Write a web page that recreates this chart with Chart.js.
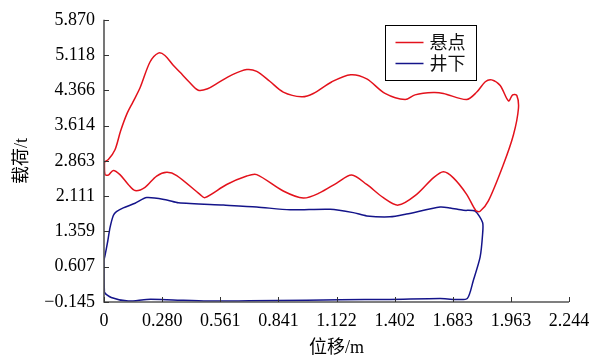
<!DOCTYPE html>
<html>
<head>
<meta charset="utf-8">
<script src="https://cdn.jsdelivr.net/npm/chart.js@4.4.0/dist/chart.umd.min.js"></script>
<style>
html,body{margin:0;padding:0;background:#ffffff;}
</style>
</head>
<body>
<canvas id="c" width="605" height="361"></canvas>
<script>
// ---- data ----
const seriesNames = ['悬点', '井下'];
const seriesColors = ['#e3121c', '#14148a'];

const xTickValues = [0, 0.2805, 0.561, 0.8415, 1.122, 1.4025, 1.683, 1.9635, 2.244];
const xTickLabels = ['0', '0.280', '0.561', '0.841', '1.122', '1.402', '1.683', '1.963', '2.244'];
const yTickValues = [-0.145, 0.607, 1.359, 2.111, 2.863, 3.614, 4.366, 5.118, 5.870];
const yTickLabels = ['\u22120.145', '0.607', '1.359', '2.111', '2.863', '3.614', '4.366', '5.118', '5.870'];

const xTitle = '位移/m';
const yTitle = '载荷/t';

// 悬点 (polished rod) loop
const rodX = [0.002, 0.021, 0.053, 0.080, 0.110, 0.140, 0.174, 0.222, 0.262, 0.294, 0.334, 0.367, 0.410, 0.455, 0.500, 0.544, 0.620, 0.689, 0.737, 0.800, 0.865, 0.954, 1.010, 1.100, 1.191, 1.268, 1.356, 1.453, 1.501, 1.589, 1.638, 1.750, 1.799, 1.840, 1.871, 1.912, 1.952, 1.972, 1.992, 2.000, 1.976, 1.927, 1.855, 1.815, 1.795, 1.750, 1.686, 1.638, 1.589, 1.509, 1.420, 1.348, 1.268, 1.195, 1.123, 1.040, 0.962, 0.865, 0.737, 0.689, 0.592, 0.487, 0.463, 0.351, 0.303, 0.254, 0.198, 0.150, 0.117, 0.077, 0.045, 0.021, 0.005, 0.002];
const rodY = [2.84, 2.89, 3.10, 3.50, 3.86, 4.12, 4.42, 4.97, 5.16, 5.11, 4.90, 4.75, 4.55, 4.37, 4.40, 4.51, 4.70, 4.81, 4.77, 4.56, 4.33, 4.23, 4.30, 4.55, 4.70, 4.61, 4.30, 4.17, 4.27, 4.32, 4.30, 4.17, 4.33, 4.55, 4.59, 4.47, 4.14, 4.27, 4.26, 3.98, 3.42, 2.78, 2.01, 1.79, 1.80, 2.15, 2.50, 2.63, 2.50, 2.15, 1.92, 2.08, 2.36, 2.56, 2.39, 2.18, 2.07, 2.22, 2.57, 2.54, 2.36, 2.08, 2.15, 2.55, 2.62, 2.54, 2.30, 2.23, 2.36, 2.57, 2.66, 2.56, 2.57, 2.84];

// 井下 (downhole) loop
const pumpX = [0.000, 0.005, 0.018, 0.029, 0.045, 0.060, 0.093, 0.150, 0.206, 0.303, 0.359, 0.576, 0.737, 0.898, 1.091, 1.203, 1.268, 1.380, 1.460, 1.622, 1.670, 1.734, 1.791, 1.827, 1.827, 1.815, 1.782, 1.753, 1.694, 1.622, 1.380, 1.139, 0.978, 0.700, 0.500, 0.303, 0.206, 0.117, 0.035, 0.002, 0.000];
const pumpY = [0.75, 0.85, 1.15, 1.44, 1.70, 1.78, 1.86, 1.96, 2.08, 2.03, 1.97, 1.92, 1.88, 1.82, 1.83, 1.76, 1.69, 1.67, 1.73, 1.88, 1.86, 1.81, 1.79, 1.55, 1.30, 0.81, 0.31, -0.07, -0.09, -0.07, -0.09, -0.095, -0.11, -0.12, -0.125, -0.095, -0.09, -0.125, -0.05, 0.07, 0.75];

const toPoints = (xs, ys) => xs.map((x, i) => ({x: x, y: ys[i]}));

const numFont = "'Liberation Serif', 'Times New Roman', serif";
const titleFont = "'Liberation Serif', 'Noto Sans CJK SC', serif";
const cjkFont = "'Noto Sans CJK SC', 'Liberation Serif', sans-serif";

const decoPlugin = {
  id: 'deco',
  afterDatasetsDraw(chart) {
    const {ctx, chartArea: a, scales} = chart;
    const xs = scales.x, ys = scales.y;
    ctx.save();
    // axis lines
    ctx.strokeStyle = '#555555';
    ctx.lineWidth = 1.6;
    ctx.beginPath();
    ctx.moveTo(a.left, a.top);
    ctx.lineTo(a.left, a.bottom);
    ctx.lineTo(a.right, a.bottom);
    ctx.stroke();
    // inward ticks
    ctx.strokeStyle = '#333333';
    ctx.lineWidth = 1;
    ctx.beginPath();
    xTickValues.forEach(v => {
      const px = Math.round(xs.getPixelForValue(v)) + 0.5;
      ctx.moveTo(px, a.bottom);
      ctx.lineTo(px, a.bottom - 5);
    });
    yTickValues.forEach(v => {
      const py = Math.round(ys.getPixelForValue(v)) + 0.5;
      ctx.moveTo(a.left, py);
      ctx.lineTo(a.left + 5, py);
    });
    ctx.stroke();
    // legend box
    const bw = 91, bh = 55;
    const bx = Math.round(a.right - 184) + 0.5;
    const by = 25.5;
    ctx.fillStyle = '#ffffff';
    ctx.fillRect(bx, by, bw, bh);
    ctx.strokeStyle = '#000000';
    ctx.lineWidth = 1;
    ctx.strokeRect(bx, by, bw, bh);
    ctx.font = "18px " + cjkFont;
    ctx.textBaseline = 'middle';
    ctx.textAlign = 'left';
    chart.data.datasets.forEach((ds, i) => {
      const ly = by + 17 + i * 21;
      ctx.strokeStyle = ds.borderColor;
      ctx.lineWidth = 1.5;
      ctx.beginPath();
      ctx.moveTo(bx + 10, ly);
      ctx.lineTo(bx + 38, ly);
      ctx.stroke();
      ctx.fillStyle = '#111111';
      ctx.fillText(ds.label, bx + 44, ly);
    });
    ctx.restore();
  }
};

new Chart(document.getElementById('c'), {
  type: 'scatter',
  data: {
    datasets: [
      {label: seriesNames[0], data: toPoints(rodX, rodY), borderColor: seriesColors[0], backgroundColor: seriesColors[0], showLine: true, borderWidth: 1.5, pointRadius: 0, tension: 0.3, fill: false},
      {label: seriesNames[1], data: toPoints(pumpX, pumpY), borderColor: seriesColors[1], backgroundColor: seriesColors[1], showLine: true, borderWidth: 1.5, pointRadius: 0, tension: 0.25, fill: false}
    ]
  },
  options: {
    responsive: false,
    animation: false,
    devicePixelRatio: 1,
    layout: {padding: {left: 0, top: 17, right: 36, bottom: 0}},
    plugins: {legend: {display: false}, tooltip: {enabled: false}},
    scales: {
      x: {
        type: 'linear', min: 0, max: 2.244,
        afterBuildTicks: s => { s.ticks = xTickValues.map(v => ({value: v})); },
        afterFit: s => { s.height = 59; },
        grid: {display: false, drawTicks: false},
        border: {display: false},
        ticks: {
          autoSkip: false, maxRotation: 0, padding: 8, color: '#000000',
          font: {family: numFont, size: 18},
          callback: (v, i) => xTickLabels[i]
        },
        title: {display: true, text: xTitle, color: '#000000', font: {family: titleFont, size: 18}, padding: {top: 0, bottom: 2}}
      },
      y: {
        type: 'linear', min: -0.145, max: 5.870,
        afterBuildTicks: s => { s.ticks = yTickValues.map(v => ({value: v})); },
        afterFit: s => { s.width = 104; },
        grid: {display: false, drawTicks: false},
        border: {display: false},
        ticks: {
          autoSkip: false, padding: 9, color: '#000000',
          font: {family: numFont, size: 18},
          callback: (v, i) => yTickLabels[i]
        },
        title: {display: true, text: yTitle, color: '#000000', font: {family: titleFont, size: 18}, padding: {top: 11, bottom: 0}}
      }
    }
  },
  plugins: [decoPlugin]
});
</script>
</body>
</html>
